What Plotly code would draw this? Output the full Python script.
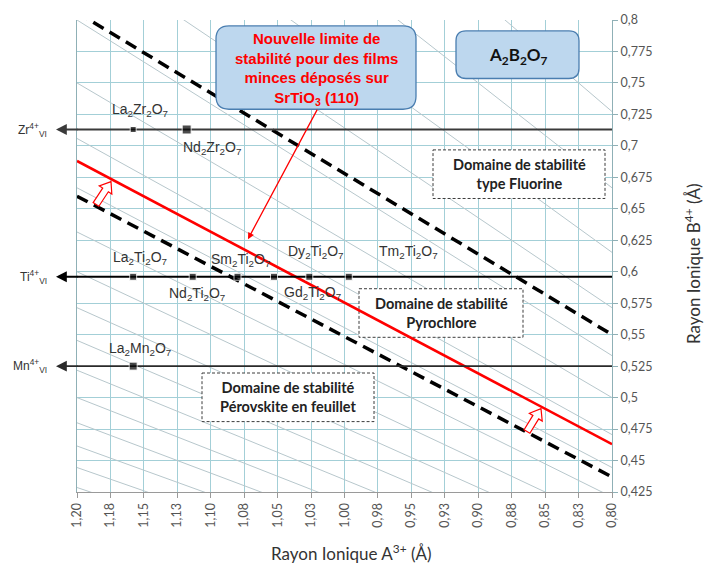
import math
import plotly.graph_objects as go

# ---------------- data ----------------
x_tick_vals = [1.200, 1.175, 1.150, 1.125, 1.100, 1.075, 1.050, 1.025, 1.000,
               0.975, 0.950, 0.925, 0.900, 0.875, 0.850, 0.825, 0.800]
x_tick_text = ["1,20", "1,18", "1,15", "1,13", "1,10", "1,08", "1,05", "1,03", "1,00",
               "0,98", "0,95", "0,93", "0,90", "0,88", "0,85", "0,83", "0,80"]
y_tick_vals = [0.800, 0.775, 0.750, 0.725, 0.700, 0.675, 0.650, 0.625, 0.600,
               0.575, 0.550, 0.525, 0.500, 0.475, 0.450, 0.425]
y_tick_text = ["0,8", "0,775", "0,75", "0,725", "0,7", "0,675", "0,65", "0,625", "0,6",
               "0,575", "0,55", "0,525", "0,5", "0,475", "0,45", "0,425"]

# B4+ ions (horizontal lines)
ion_labels = ["Zr<sup>4+</sup><sub>VI</sub>", "Ti<sup>4+</sup><sub>VI</sub>", "Mn<sup>4+</sup><sub>VI</sub>"]
ion_radius = [0.713, 0.596, 0.525]
ion_colors = ["#3a3a3a", "#000000", "#2a2a2a"]

# compounds (squares)
comp_names = ["La<sub>2</sub>Zr<sub>2</sub>O<sub>7</sub>", "Nd<sub>2</sub>Zr<sub>2</sub>O<sub>7</sub>",
              "La<sub>2</sub>Ti<sub>2</sub>O<sub>7</sub>", "Nd<sub>2</sub>Ti<sub>2</sub>O<sub>7</sub>",
              "Sm<sub>2</sub>Ti<sub>2</sub>O<sub>7</sub>", "Gd<sub>2</sub>Ti<sub>2</sub>O<sub>7</sub>",
              "Dy<sub>2</sub>Ti<sub>2</sub>O<sub>7</sub>", "Tm<sub>2</sub>Ti<sub>2</sub>O<sub>7</sub>",
              "La<sub>2</sub>Mn<sub>2</sub>O<sub>7</sub>"]
comp_rA = [1.158, 1.118, 1.158, 1.1135, 1.080, 1.0527, 1.0263, 0.9968, 1.158]
comp_rB = [0.713, 0.713, 0.596, 0.596, 0.596, 0.596, 0.596, 0.596, 0.525]
comp_size = [6, 9, 7, 7, 7, 7, 7, 7, 8]
# label positions (data coords)
label_x = [1.1529, 1.0991, 1.153, 1.1103, 1.0781, 1.0236, 1.0213, 0.9525, 1.153]
label_y = [0.7283, 0.6984, 0.611, 0.5826, 0.6093, 0.5833, 0.6157, 0.6157, 0.5385]

# constant rA/rB guide lines
ratio_lines = [1.1, 1.2, 1.3, 1.4, 1.5, 1.6, 1.7, 1.8, 1.9, 2.0, 2.1, 2.2, 2.3, 2.4, 2.5, 2.6, 2.7, 2.8]

# limits
upper_dash_x = [1.20, 0.80]
upper_dash_y = [0.806, 0.550]
lower_dash_x = [1.20, 0.80]
lower_dash_y = [0.660, 0.437]
red_x = [1.20, 0.80]
red_y = [0.688, 0.463]

# ---------------- geometry helpers (layout only) ----------------
W, H = 710, 569
L, R, T, B = 77, 612, 16, 492
X0, X1, Y0, Y1 = 1.2, 0.8, 0.425, 0.8


def dx(px):
    return X0 + (px - L) / (R - L) * (X1 - X0)


def dy(py):
    return Y1 - (py - T) / (B - T) * (Y1 - Y0)


def pxp(px):
    return (px - L) / (R - L)


def pyp(py):
    return (B - py) / (B - T)


GRID = "#a3cfd7"
DIAG = "#b7c7cc"

fig = go.Figure()

# thin ratio lines
gx, gy = [], []
for k in ratio_lines:
    gx += [X0, X1, None]
    gy += [X0 / k, X1 / k, None]
fig.add_trace(go.Scatter(x=gx, y=gy, mode="lines", line=dict(color=DIAG, width=1),
                         hoverinfo="skip"))

# white dashed domain boxes (drawn as traces so the red line stays on top)
boxes = [
    (433, 147, 605, 196, ["Domaine de stabilité", "type Fluorine"]),
    (359, 287, 523, 336, ["Domaine de stabilité", "Pyrochlore"]),
    (202, 372, 374, 421, ["Domaine de stabilité", "Pérovskite en feuillet"]),
]
for (bx0, by0, bx1, by1, _) in boxes:
    fig.add_trace(go.Scatter(
        x=[dx(bx0), dx(bx1), dx(bx1), dx(bx0), dx(bx0)],
        y=[dy(by0), dy(by0), dy(by1), dy(by1), dy(by0)],
        mode="lines", fill="toself", fillcolor="white",
        line=dict(color="#3c3c3c", width=1, dash="3px,2px"), hoverinfo="skip"))

# dashed limits
fig.add_trace(go.Scatter(x=upper_dash_x, y=upper_dash_y, mode="lines",
                         line=dict(color="black", width=3.5, dash="12px,7px")))
fig.add_trace(go.Scatter(x=lower_dash_x, y=lower_dash_y, mode="lines",
                         line=dict(color="black", width=3.5, dash="12px,7px")))
# red new limit
fig.add_trace(go.Scatter(x=red_x, y=red_y, mode="lines",
                         line=dict(color="#ff0000", width=2.6)))

# ion horizontal lines
for r, c in zip(ion_radius, ion_colors):
    fig.add_trace(go.Scatter(x=[X0, X1], y=[r, r], mode="lines",
                             line=dict(color=c, width=1.8)))

# compound squares
fig.add_trace(go.Scatter(x=comp_rA, y=comp_rB, mode="markers",
                         marker=dict(symbol="square", color="black", size=comp_size)))

annotations = []
shapes = []

# ion labels and left arrowheads
for lab, r, c in zip(ion_labels, ion_radius, ion_colors):
    annotations.append(dict(xref="paper", yref="y", x=pxp(56), y=r, ax=L - 56 + 2, ay=0,
                            axref="pixel", ayref="pixel", text="", showarrow=True,
                            arrowhead=2, arrowsize=1.2, arrowwidth=1.8, arrowcolor=c,
                            standoff=0))
    annotations.append(dict(xref="paper", yref="y", x=pxp(49), y=r, xanchor="right",
                            yanchor="middle", text=lab, showarrow=False,
                            font=dict(family="Liberation Sans", size=12, color="#333333")))

# compound labels
for name, lx, ly in zip(comp_names, label_x, label_y):
    annotations.append(dict(x=lx, y=ly, xref="x", yref="y", text=name, showarrow=False,
                            xanchor="center", yanchor="middle",
                            font=dict(family="Liberation Sans", size=14, color="#333333")))

# domain texts
for (bx0, by0, bx1, by1, lines) in boxes:
    annotations.append(dict(xref="paper", yref="paper", x=pxp((bx0 + bx1) / 2),
                            y=pyp((by0 + by1) / 2), text="<br>".join(lines),
                            showarrow=False, xanchor="center", yanchor="middle",
                            font=dict(family="Lato", size=14.5, color="#222222", weight="bold"),
                            ))


def rrect(x0, y0, x1, y1, r):
    def P(px, py):
        return f"{pxp(px):.5f},{pyp(py):.5f}"
    return (f"M {P(x0 + r, y0)} L {P(x1 - r, y0)} Q {P(x1, y0)} {P(x1, y0 + r)} "
            f"L {P(x1, y1 - r)} Q {P(x1, y1)} {P(x1 - r, y1)} L {P(x0 + r, y1)} "
            f"Q {P(x0, y1)} {P(x0, y1 - r)} L {P(x0, y0 + r)} Q {P(x0, y0)} {P(x0 + r, y0)} Z")


# callout box
shapes.append(dict(type="path", xref="paper", yref="paper", path=rrect(216, 22, 416, 106, 13),
                   fillcolor="#bdd7ee", line=dict(color="#4a7eb0", width=1.3), layer="above"))
annotations.append(dict(xref="paper", yref="paper", x=pxp(316), y=pyp(65),
                        text="Nouvelle limite de<br>stabilité pour des films<br>minces déposés sur<br>SrTiO<sub>3</sub> (110)",
                        showarrow=False, xanchor="center", yanchor="middle",
                        font=dict(family="Liberation Sans", size=15, color="#ff0000", weight="bold")))
# pointer
annotations.append(dict(xref="x", yref="y", x=dx(248), y=dy(237), ax=318 - 248, ay=106 - 237,
                        axref="pixel", ayref="pixel", text="", showarrow=True, arrowhead=2,
                        arrowsize=1, arrowwidth=1.3, arrowcolor="#ff0000", standoff=0))

# A2B2O7 box
shapes.append(dict(type="path", xref="paper", yref="paper", path=rrect(456, 27, 579, 75, 10),
                   fillcolor="#bdd7ee", line=dict(color="#4a7eb0", width=1.3), layer="above"))
annotations.append(dict(xref="paper", yref="paper", x=pxp(518), y=pyp(52),
                        text="A<sub>2</sub>B<sub>2</sub>O<sub>7</sub>", showarrow=False,
                        xanchor="center", yanchor="middle",
                        font=dict(family="Lato", size=17, color="#111111", weight="bold")))


# hollow block arrows
def block_arrow(tail, tip, w1=3.4, w2=7.5, h=10.0):
    ux, uy = tip[0] - tail[0], tip[1] - tail[1]
    ln = math.hypot(ux, uy)
    ux, uy = ux / ln, uy / ln
    nx, ny = -uy, ux
    bx, by = tail[0] + (ln - h) * ux, tail[1] + (ln - h) * uy
    pts = [(tail[0] + nx * w1, tail[1] + ny * w1), (bx + nx * w1, by + ny * w1),
           (bx + nx * w2, by + ny * w2), tip, (bx - nx * w2, by - ny * w2),
           (bx - nx * w1, by - ny * w1), (tail[0] - nx * w1, tail[1] - ny * w1)]
    return "M " + " L ".join(f"{pxp(a):.5f},{pyp(b):.5f}" for a, b in pts) + " Z"


for tail, tip in [((96, 202), (111, 179)), ((527, 431), (541, 408))]:
    shapes.append(dict(type="path", xref="paper", yref="paper", path=block_arrow(tail, tip),
                       fillcolor="white", line=dict(color="#ff0000", width=1.2), layer="above"))

# axis titles
annotations.append(dict(xref="paper", yref="paper", x=pxp(352), y=pyp(553),
                        text="Rayon Ionique A<sup>3+</sup> (Å)", showarrow=False,
                        xanchor="center", yanchor="middle",
                        font=dict(family="Lato", size=17, color="#333333")))
annotations.append(dict(xref="paper", yref="paper", x=pxp(693), y=pyp(262),
                        text="Rayon Ionique B<sup>4+</sup> (Å)", showarrow=False, textangle=-90,
                        xanchor="center", yanchor="middle",
                        font=dict(family="Lato", size=17, color="#333333")))

fig.update_layout(
    width=W, height=H, margin=dict(l=L, r=W - R, t=T, b=H - B),
    paper_bgcolor="white", plot_bgcolor="white", showlegend=False,
    annotations=annotations, shapes=shapes,
    xaxis=dict(range=[X0, X1], tickvals=x_tick_vals, ticktext=x_tick_text, tickangle=-90,
               showgrid=True, gridcolor=GRID, gridwidth=1, zeroline=False,
               showline=True, linecolor="#9a9a9a", linewidth=1.2,
               ticks="outside", ticklen=5, tickcolor="#9a9a9a",
               tickfont=dict(family="Lato", size=12.5, color="#555555")),
    yaxis=dict(range=[Y0, Y1], tickvals=y_tick_vals, ticktext=y_tick_text, side="right",
               showgrid=True, gridcolor=GRID, gridwidth=1, zeroline=False,
               showline=True, linecolor="#8fb0b6", linewidth=1.2, mirror=True,
               ticks="outside", ticklen=5, tickcolor="#8fb0b6",
               tickfont=dict(family="Lato", size=12.5, color="#555555")),
)

fig.write_html("out.html")
